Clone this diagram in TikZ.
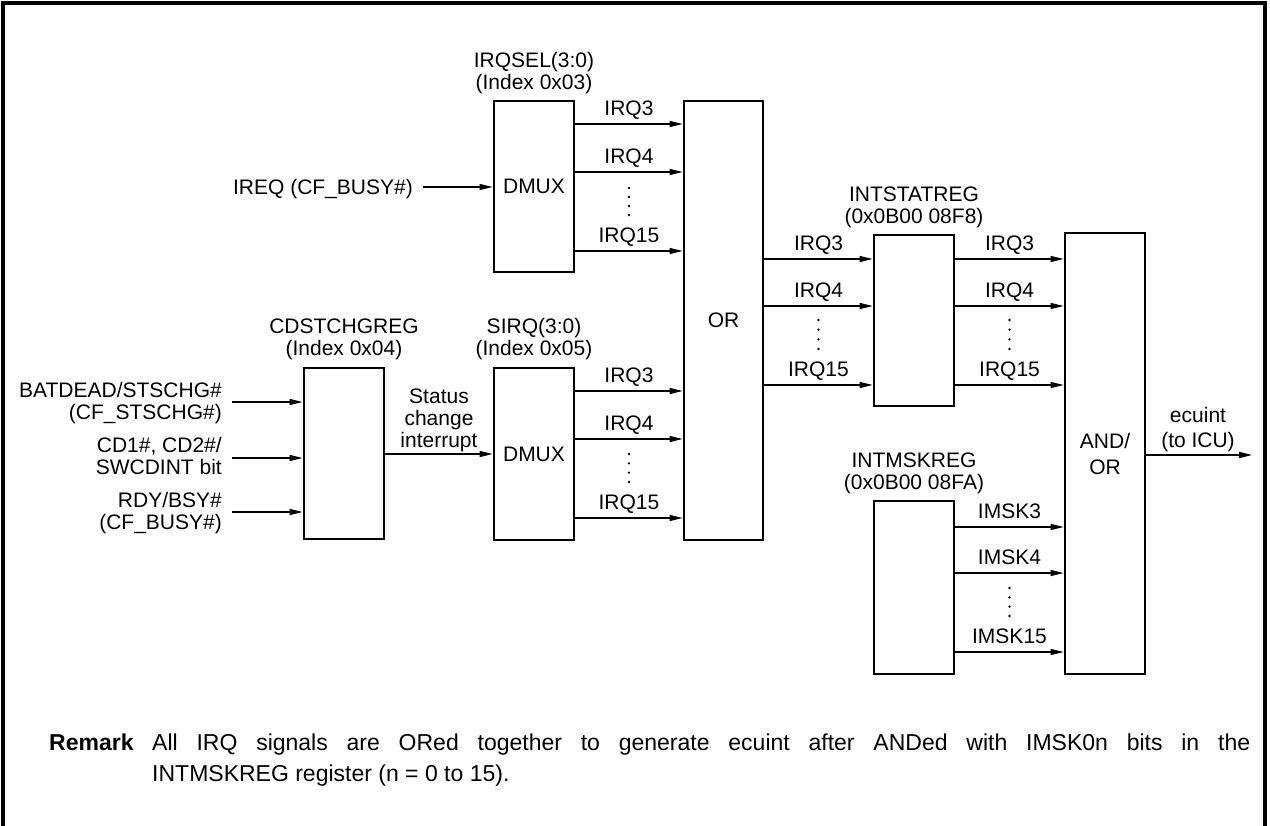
\documentclass[tikz,border=0pt]{standalone}
\usepackage{fontspec}
\setmainfont{Liberation Sans}
\usetikzlibrary{arrows.meta}
\newcommand\dotcol[3]{\foreach \k in {0,1,2,3} {\fill ({#1},{#2+\k*(#3-#2)/3}) circle (1.3pt);}}
\begin{document}
\begin{tikzpicture}[x=1pt,y=-1pt,
  every node/.style={font=\fontsize{21pt}{25pt}\selectfont},
  txt/.style={inner sep=0pt, text height=15pt, text depth=0pt},
  blk/.style={draw, line width=2.6pt, inner sep=0pt, minimum width=80pt, align=center},
  arr/.style={line width=1.3pt, -{Triangle[length=13pt,width=6pt]}},
  lab/.style={midway, above=7.5pt, inner sep=0pt, text height=15pt, text depth=0pt},
  frame/.style={line width=4pt},
  rmk/.style={inner sep=0pt, anchor=base west, font=\fontsize{23pt}{31pt}\selectfont}
]
\useasboundingbox (0,0) rectangle (1270,826);
\draw[frame] (3,826) -- (3,3) -- (1265,3) -- (1265,826);

% ---------- blocks ----------
\node[blk, minimum height=171pt] (dA) at (534,186.5) {DMUX};
\node[blk, minimum width=79pt, minimum height=439pt] (orb) at (723.5,320.5) {OR};
\node[blk, minimum height=171pt] (cd) at (344,453.5) {};
\node[blk, minimum height=172pt] (dB) at (534,454) {DMUX};
\node[blk, minimum height=171pt] (ist) at (914,320.5) {};
\node[blk, minimum height=173pt] (imk) at (914,587.5) {};
\node[blk, minimum height=441pt, font=\fontsize{21pt}{26pt}\selectfont] (ao) at (1105,453.5) {AND/\\OR};

% ---------- block titles ----------
\node[txt] (tA1) at (534,60) {IRQSEL(3:0)};
\node[txt] (tA2) at (534,82) {(Index 0x03)};
\node[txt] (tC1) at (344,326) {CDSTCHGREG};
\node[txt] (tC2) at (344,348) {(Index 0x04)};
\node[txt] (tB1) at (534,326) {SIRQ(3:0)};
\node[txt] (tB2) at (534,348) {(Index 0x05)};
\node[txt] (tS1) at (914,194) {INTSTATREG};
\node[txt] (tS2) at (914,216) {(0x0B00 08F8)};
\node[txt] (tM1) at (914,460) {INTMSKREG};
\node[txt] (tM2) at (914,482) {(0x0B00 08FA)};

% ---------- IREQ input ----------
\node[txt, anchor=east] (ireq) at (413,187) {IREQ (CF\_BUSY\#)};
\draw[arr] ([xshift=10pt]ireq.east) -- (dA.west |- ireq.east);

% ---------- CDSTCHGREG inputs ----------
\node[txt, anchor=east] (i1a) at (222,390) {BATDEAD/STSCHG\#};
\node[txt, anchor=east] (i1b) at (222,412) {(CF\_STSCHG\#)};
\node[txt, anchor=east] (i2a) at (222,445) {CD1\#, CD2\#/};
\node[txt, anchor=east] (i2b) at (222,467) {SWCDINT bit};
\node[txt, anchor=east] (i3a) at (222,500) {RDY/BSY\#};
\node[txt, anchor=east] (i3b) at (222,522) {(CF\_BUSY\#)};
\coordinate (in1) at (232,402);
\coordinate (in2) at (232,458);
\coordinate (in3) at (232,512);
\draw[arr] (in1) -- (cd.west |- in1);
\draw[arr] (in2) -- (cd.west |- in2);
\draw[arr] (in3) -- (cd.west |- in3);

% ---------- status change interrupt ----------
\node[txt] (st1) at (439,396) {Status};
\node[txt] (st2) at (439,418) {change};
\node[txt] (st3) at (439,440) {interrupt};
\draw[arr] (cd.east |- 0,454) -- (dB.west |- 0,454);

% ---------- upper DMUX -> OR ----------
\draw[arr] (dA.east |- 0,124) -- node[lab] {IRQ3} (orb.west |- 0,124);
\draw[arr] (dA.east |- 0,172) -- node[lab] {IRQ4} (orb.west |- 0,172);
\draw[arr] (dA.east |- 0,251) -- node[lab] {IRQ15} (orb.west |- 0,251);
\dotcol{629}{188}{215}

% ---------- lower DMUX -> OR ----------
\draw[arr] (dB.east |- 0,391) -- node[lab] {IRQ3} (orb.west |- 0,391);
\draw[arr] (dB.east |- 0,439) -- node[lab] {IRQ4} (orb.west |- 0,439);
\draw[arr] (dB.east |- 0,518) -- node[lab] {IRQ15} (orb.west |- 0,518);
\dotcol{629}{454}{482}

% ---------- OR -> INTSTATREG ----------
\draw[arr] (orb.east |- 0,259) -- node[lab] {IRQ3} (ist.west |- 0,259);
\draw[arr] (orb.east |- 0,306) -- node[lab] {IRQ4} (ist.west |- 0,306);
\draw[arr] (orb.east |- 0,385) -- node[lab] {IRQ15} (ist.west |- 0,385);
\dotcol{818.5}{320}{349}

% ---------- INTSTATREG -> AND/OR ----------
\draw[arr] (ist.east |- 0,259) -- node[lab] {IRQ3} (ao.west |- 0,259);
\draw[arr] (ist.east |- 0,306) -- node[lab] {IRQ4} (ao.west |- 0,306);
\draw[arr] (ist.east |- 0,385) -- node[lab] {IRQ15} (ao.west |- 0,385);
\dotcol{1009.5}{320}{349}

% ---------- INTMSKREG -> AND/OR ----------
\draw[arr] (imk.east |- 0,527) -- node[lab] {IMSK3} (ao.west |- 0,527);
\draw[arr] (imk.east |- 0,573) -- node[lab] {IMSK4} (ao.west |- 0,573);
\draw[arr] (imk.east |- 0,652) -- node[lab] {IMSK15} (ao.west |- 0,652);
\dotcol{1009.5}{588}{616}

% ---------- output ----------
\node[txt] (e1) at (1198,415) {ecuint};
\node[txt] (e2) at (1198,440) {(to ICU)};
\coordinate (out) at (1252,455);
\draw[arr] (ao.east |- out) -- (out);

% ---------- remark ----------
\node[rmk, font=\fontsize{23pt}{31pt}\selectfont\bfseries] (rm) at (49,750) {Remark};
\node[rmk] (rl1) at (152,750) {\makebox[1098pt][s]{All IRQ signals are ORed together to generate ecuint after ANDed with IMSK0n bits in the}};
\node[rmk] (rl2) at (152,781) {INTMSKREG register (n = 0 to 15).};
\end{tikzpicture}
\end{document}
